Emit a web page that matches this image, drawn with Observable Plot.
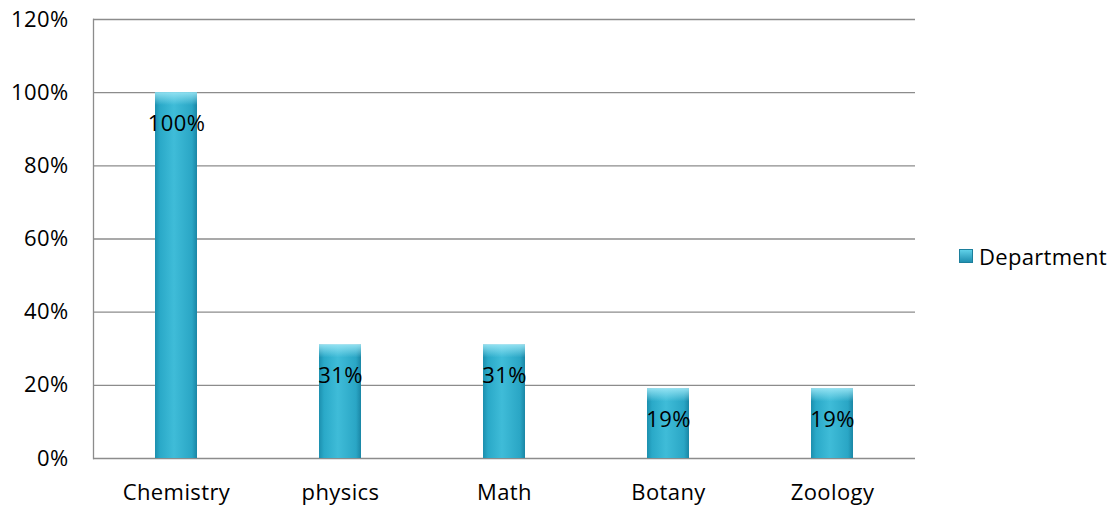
<!DOCTYPE html>
<html>
<head>
<meta charset="utf-8">
<script src="https://cdn.jsdelivr.net/npm/d3@7"></script>
<script src="https://cdn.jsdelivr.net/npm/@observablehq/plot@0.6"></script>
<style>
  html, body { margin: 0; padding: 0; background: #fff; }
  #wrap { position: relative; width: 1114px; height: 508px; font-family: "Open Sans", Lato, sans-serif; }
  #wrap svg { position: absolute; left: 0; top: 0; }
  #legend { position: absolute; left: 959px; top: 241px; font-size: 22px; color: #000; display: flex; align-items: center; gap: 6px; letter-spacing: 0.3px; }
  #legend .sw { width: 14px; height: 14px; background: linear-gradient(#5fd0e8, #1f8fb0); border: 1px solid #1c7f9c; box-sizing: border-box; }
</style>
</head>
<body>
<div id="wrap"><div id="legend"><span class="sw"></span><span>Department</span></div></div>
<script>
const categories = ["Chemistry", "physics", "Math", "Botany", "Zoology"];
const values = [1.00, 0.31, 0.31, 0.19, 0.19];
const labels = ["100%", "31%", "31%", "19%", "19%"];
const yTicks = [0, 0.2, 0.4, 0.6, 0.8, 1.0, 1.2];

const data = categories.map((c, i) => ({category: c, value: values[i], label: labels[i]}));

function gradientDefs() {
  const defs = d3.create("svg:defs");
  const g = defs.append("linearGradient").attr("id", "barGrad").attr("x1", 0).attr("x2", 1).attr("y1", 0).attr("y2", 0);
  [[0, "#1c8fae"], [0.12, "#2aa9c8"], [0.45, "#3fbcd8"], [0.88, "#2aa6c5"], [1, "#1a86a5"]].forEach(([o, c]) =>
    g.append("stop").attr("offset", o).attr("stop-color", c));
  const c = defs.append("linearGradient").attr("id", "capGrad").attr("x1", 0).attr("x2", 0).attr("y1", 0).attr("y2", 1);
  c.append("stop").attr("offset", 0).attr("stop-color", "#9be6f5").attr("stop-opacity", 0.9);
  c.append("stop").attr("offset", 1).attr("stop-color", "#9be6f5").attr("stop-opacity", 0);
  return defs.node();
}

const chart = Plot.plot({
  width: 950,
  height: 508,
  marginLeft: 93,
  marginRight: 35,
  marginTop: 19,
  marginBottom: 50,
  style: {fontFamily: "'Open Sans', Lato, sans-serif", fontSize: "22px", color: "#000", background: "transparent", letterSpacing: "0.4px"},
  x: {domain: categories, paddingInner: 0.745, paddingOuter: 0.3725, label: null},
  y: {domain: [0, 1.2], label: null},
  marks: [
    gradientDefs,
    Plot.gridY(yTicks, {stroke: "#8c8c8c", strokeOpacity: 1, strokeWidth: 1.3}),
    Plot.axisY({ticks: yTicks, tickFormat: d => Math.round(d * 100) + "%", tickSize: 0, tickPadding: 25, fontSize: 22, label: null}),
    Plot.axisX({tickSize: 0, tickPadding: 26, fontSize: 22, label: null}),
    Plot.barY(data, {x: "category", y: "value", fill: "url(#barGrad)"}),
    Plot.barY(data, {x: "category", y1: d => d.value - 0.035, y2: "value", fill: "url(#capGrad)"}),
    Plot.text(data, {x: "category", y: "value", text: "label", dy: 31, fontSize: 22, fill: "#000"}),
    Plot.frame({anchor: "left", stroke: "#8c8c8c", strokeWidth: 1.3})
  ]
});
document.getElementById("wrap").prepend(chart);
</script>
</body>
</html>
